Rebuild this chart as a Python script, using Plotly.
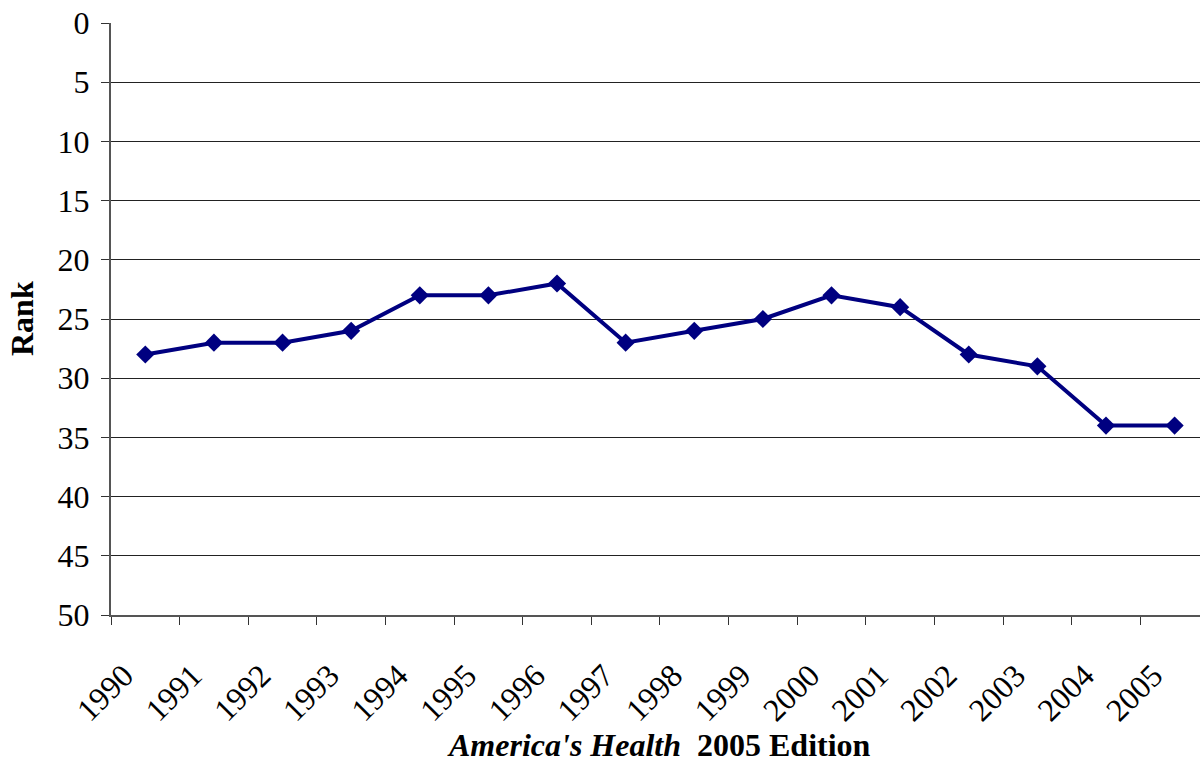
import plotly.graph_objects as go

# Yearly state health ranking (lower number = better rank)
years = ["1990", "1991", "1992", "1993", "1994", "1995", "1996", "1997",
         "1998", "1999", "2000", "2001", "2002", "2003", "2004", "2005"]
ranks = [28, 27, 27, 26, 23, 23, 22, 27, 26, 25, 23, 24, 28, 29, 34, 34]

W, H = 1200, 765
L, R, T, B = 111, 0, 23, 150
PW, PH = W - L - R, H - T - B

# Points sit in the middle of each category slot; year labels sit on the slot boundaries
x_pos = [i + 0.5 for i in range(len(years))]

fig = go.Figure()
fig.add_trace(go.Scatter(
    x=x_pos, y=ranks, mode="lines+markers",
    line=dict(color="#000080", width=4),
    marker=dict(symbol="diamond", size=14, color="#000080"),
    showlegend=False, cliponaxis=False,
))

serif = "Liberation Serif"
fig.update_layout(
    width=W, height=H,
    margin=dict(l=L, r=R, t=T, b=B),
    paper_bgcolor="white", plot_bgcolor="white",
    font=dict(family=serif, size=32, color="black"),
    xaxis=dict(
        range=[0, 15.87],
        tickmode="array",
        tickvals=list(range(len(years))),
        ticktext=years,
        tickangle=-45,
        ticks="outside", ticklen=8, tickcolor="#333", tickwidth=1,
        ticklabelstandoff=19, ticklabelshift=13,
        showgrid=False, zeroline=False,
        showline=True, linecolor="#555", linewidth=2,
        tickfont=dict(family=serif, size=32, color="black"),
    ),
    yaxis=dict(
        range=[50, 0],
        tickmode="linear", tick0=0, dtick=5,
        ticks="outside", ticklen=8, tickcolor="#333", tickwidth=1,
        ticklabelstandoff=5,
        showgrid=True, gridcolor="#222", gridwidth=1,
        zeroline=False,
        showline=True, linecolor="#555", linewidth=2,
        tickfont=dict(family=serif, size=32, color="black"),
    ),
    annotations=[
        dict(text="<b>Rank</b>", textangle=-90,
             xref="paper", yref="paper",
             x=(22 - L) / PW, y=(H - B - 319) / PH,
             xanchor="center", yanchor="middle", showarrow=False,
             font=dict(family=serif, size=32)),
        dict(text="<b><i>America's Health</i>&nbsp; 2005 Edition</b>",
             xref="paper", yref="paper",
             x=(659 - L) / PW, y=(H - B - 765) / PH,
             xanchor="center", yanchor="bottom", showarrow=False,
             font=dict(family=serif, size=32)),
    ],
)

fig.write_html("out.html")
